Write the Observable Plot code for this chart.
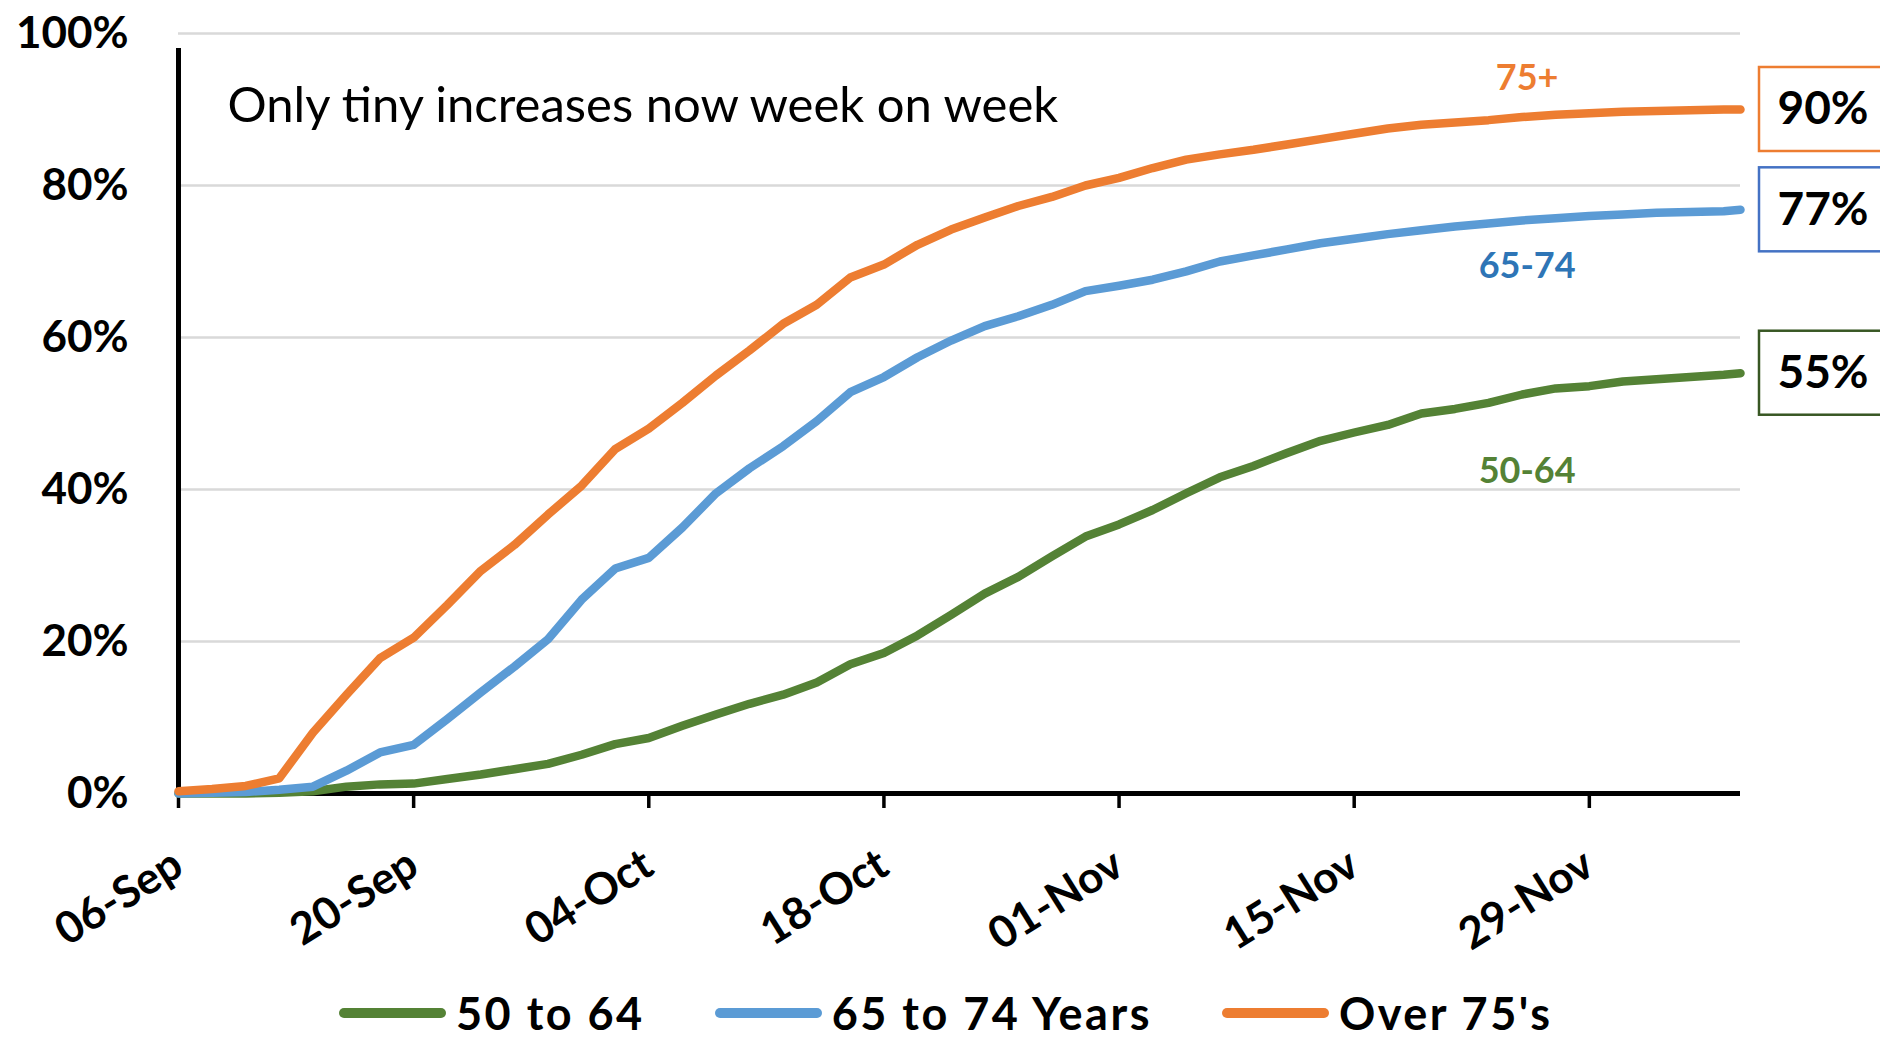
<!DOCTYPE html>
<html><head><meta charset="utf-8">
<script src="https://cdn.jsdelivr.net/npm/d3@7"></script>
<script src="https://cdn.jsdelivr.net/npm/@observablehq/plot@0.6"></script>
<style>
html,body{margin:0;padding:0;background:#fff;overflow:hidden;width:1880px;height:1040px;}
#legend{display:flex;align-items:center;height:56px;padding-left:339px;font-family:Lato,"Open Sans",sans-serif;font-weight:bold;font-size:45px;line-height:1;letter-spacing:2.5px;color:#000;}
.item{display:flex;align-items:center;margin-right:70px;}
.sw{width:107px;height:10px;border-radius:5px;margin-right:10px;}
</style></head><body>
<div id="chart"></div>
<div id="legend"></div>
<script>
// ---- data ----
const dates = ["2021-09-06","2021-09-08","2021-09-10","2021-09-12","2021-09-14","2021-09-16","2021-09-18","2021-09-20","2021-09-22","2021-09-24","2021-09-26","2021-09-28","2021-09-30",
"2021-10-02","2021-10-04","2021-10-06","2021-10-08","2021-10-10","2021-10-12","2021-10-14","2021-10-16","2021-10-18","2021-10-20","2021-10-22","2021-10-24","2021-10-26","2021-10-28","2021-10-30",
"2021-11-01","2021-11-03","2021-11-05","2021-11-07","2021-11-09","2021-11-11","2021-11-13","2021-11-15","2021-11-17","2021-11-19","2021-11-21","2021-11-23","2021-11-25","2021-11-27","2021-11-29",
"2021-12-01","2021-12-03","2021-12-05","2021-12-07","2021-12-08"];
const age50to64 = [0,0,0,0.1,0.3,0.9,1.2,1.3,1.9,2.5,3.2,3.9,5.1,6.5,7.3,8.9,10.4,11.8,13,14.6,17,18.5,20.8,23.5,26.3,28.5,31.2,33.8,35.4,37.3,39.5,41.6,43.1,44.8,46.4,47.5,48.5,50,50.6,51.4,52.5,53.3,53.6,54.2,54.5,54.8,55.1,55.3];
const age65to74 = [0,0.1,0.2,0.5,0.9,3,5.4,6.4,9.8,13.3,16.7,20.3,25.5,29.6,31,35,39.5,42.8,45.7,49,52.8,54.8,57.4,59.6,61.5,62.8,64.3,66.1,66.8,67.6,68.7,70,70.8,71.6,72.4,73,73.6,74.1,74.6,75,75.4,75.7,76,76.2,76.4,76.5,76.6,76.8];
const over75 = [0.3,0.6,1.0,2.0,8,13,17.8,20.5,24.8,29.3,32.7,36.7,40.5,45.3,48,51.4,55,58.3,61.8,64.3,67.9,69.6,72.2,74.2,75.8,77.3,78.5,80,81,82.3,83.4,84.1,84.7,85.4,86.1,86.8,87.5,88,88.3,88.6,89,89.3,89.5,89.7,89.8,89.9,90,90];
const seriesNames = ["50 to 64", "65 to 74 Years", "Over 75's"];
const seriesShort = ["50-64", "65-74", "75+"];
const xTicks = ["2021-09-06","2021-09-20","2021-10-04","2021-10-18","2021-11-01","2021-11-15","2021-11-29"];
const yTicks = [0, 20, 40, 60, 80, 100];
const annotation = "Only tiny increases now week on week";

// ---- styles ----
const lineColors = ["#548235", "#5b9bd5", "#ed7d31"];
const labelColors = ["#548235", "#2e75b6", "#ed7d31"];
const boxColors = ["#385723", "#4472c4", "#ed7d31"];
const labelDy = [77, 46, -39];
const FONT = "Lato, 'Open Sans', sans-serif";

const parse = d3.utcParse("%Y-%m-%d");
const values = [age50to64, age65to74, over75];
const rows = values.map((vals, i) => dates.map((d, j) => ({date: parse(d), value: vals[j], series: seriesNames[i]})));
const labelIndex = dates.indexOf("2021-11-25");

const marks = [
  Plot.gridY(yTicks.filter(v => v > 0), {stroke: "#d9d9d9", strokeOpacity: 1, strokeWidth: 2.5}),
  Plot.ruleY([0], {stroke: "black", strokeWidth: 5}),
  Plot.ruleX([parse(dates[0])], {y1: 0, y2: 100, stroke: "black", strokeWidth: 5, insetBottom: -15}),
  Plot.axisY(yTicks, {tickSize: 0, tickPadding: 50, tickFormat: d => d + "%", fontSize: 44, fontWeight: "bold", fill: "black", label: null}),
  Plot.axisX(xTicks.map(parse), {tickSize: 15, strokeWidth: 3.5, stroke: "black", tickPadding: 52, tickRotate: -32,
    tickFormat: d3.utcFormat("%d-%b"), fontSize: 44, fontWeight: "bold", fill: "black", label: null}),
  Plot.text([annotation], {frameAnchor: "top-left", text: d => d, dx: 49, dy: 54, lineAnchor: "top", textAnchor: "start", fontSize: 49, fill: "black"})
];
rows.forEach((r, i) => {
  marks.push(Plot.line(r, {x: "date", y: "value", stroke: lineColors[i], strokeWidth: 8.5, strokeLinejoin: "round", strokeLinecap: "round"}));
});
rows.forEach((r, i) => {
  const last = r[r.length - 1];
  marks.push(Plot.text([r[labelIndex]], {x: "date", y: "value", text: () => seriesShort[i], dy: labelDy[i], dx: 5, fill: labelColors[i], fontSize: 36, fontWeight: "bold"}));
  marks.push(Plot.rect([last], {x1: "date", x2: "date", y1: "value", y2: "value", insetLeft: 19, insetRight: -159, insetTop: -42, insetBottom: -42, fill: "none", stroke: boxColors[i], strokeWidth: 2.5}));
  marks.push(Plot.text([last], {x: "date", y: "value", text: d => Math.round(d.value) + "%", dx: 37, textAnchor: "start", fontSize: 46, fontWeight: "bold", fill: "black"}));
});

const chart = Plot.plot({
  width: 1880, height: 985,
  marginLeft: 178, marginRight: 140, marginTop: 33, marginBottom: 192,
  x: {type: "utc", domain: [parse(dates[0]), parse(dates[dates.length - 1])], label: null},
  y: {domain: [0, 100], label: null},
  style: {fontFamily: FONT, background: "white", overflow: "visible"},
  marks
});
document.getElementById("chart").appendChild(chart);

const legend = document.getElementById("legend");
seriesNames.forEach((name, i) => {
  const item = document.createElement("div");
  item.className = "item";
  const sw = document.createElement("span");
  sw.className = "sw";
  sw.style.background = lineColors[i];
  const t = document.createElement("span");
  t.textContent = name;
  item.appendChild(sw); item.appendChild(t);
  legend.appendChild(item);
});
</script>
</body></html>
